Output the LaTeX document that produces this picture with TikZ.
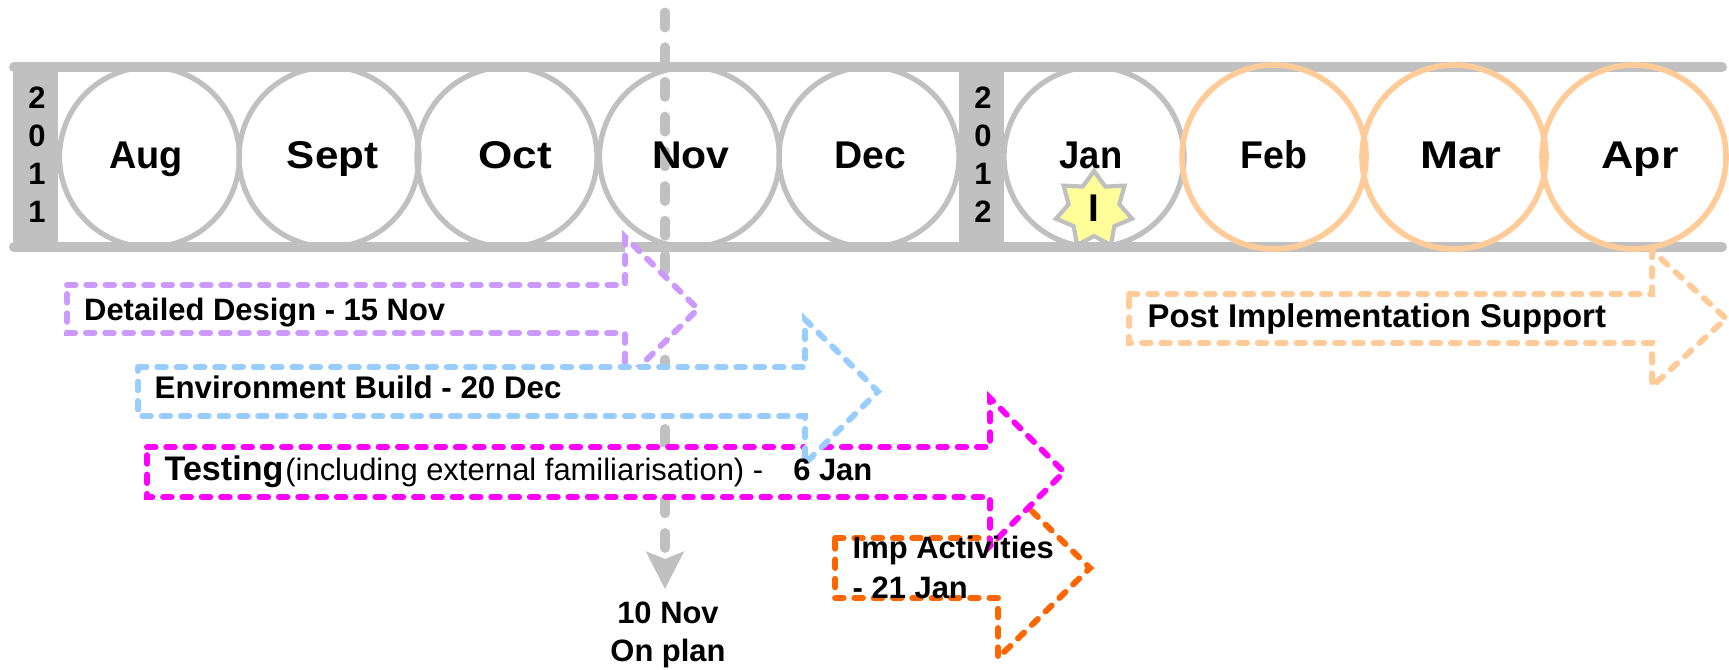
\documentclass[tikz,border=0pt]{standalone}
\usepackage{fontspec}
\setmainfont{Liberation Sans}
\usetikzlibrary{arrows.meta}
\usetikzlibrary{shapes.geometric}
\definecolor{barc}{HTML}{C0C0C0}
\definecolor{peach}{HTML}{FFCC99}
\definecolor{lilac}{HTML}{CC99FF}
\definecolor{skyb}{HTML}{99CCFF}
\definecolor{mag}{HTML}{FF00FF}
\definecolor{orng}{HTML}{FF6600}
\definecolor{starc}{HTML}{FFFF99}
\tikzset{
  monthc/.style={circle, draw=barc, line width=1.5pt, minimum size=1.8cm, inner sep=0pt},
  lbl/.style={inner sep=0pt, font=\fontsize{8.8}{10.8}\selectfont\bfseries},
  yearlbl/.style={lbl, align=center},
  blockarr/.style={fill=white, line width=1.7pt, dash pattern=on 0.085cm off 0.108cm, line cap=round}
}
\begin{document}
\begin{tikzpicture}[>=latex]
  \useasboundingbox (0, 0) rectangle (17.29, 6.69);

  % month circles, still grey ones
  \foreach \mon/\x in {aug/1.495, sept/3.29, oct/5.07, nov/6.895, dec/8.69, jan/10.94} {
    \node[monthc] (\mon) at (\x, 5.12) {};
  }

  % year blocks and the two rails
  \fill[barc] (0.13, 4.22) rectangle (0.58, 6.02);
  \fill[barc] (9.59, 4.22) rectangle (10.04, 6.02);
  \coordinate (topl) at (0.14, 6.02);
  \coordinate (topr) at (17.22, 6.02);
  \coordinate (botl) at (0.14, 4.22);
  \coordinate (botr) at (17.22, 4.22);
  \draw[barc, line width=2.85pt, line cap=round] (topl) -- (topr);
  \draw[barc, line width=2.85pt, line cap=round] (botl) -- (botr);

  % months still to come
  \foreach \mon/\x in {feb/12.74, mar/14.54, apr/16.34} {
    \node[monthc, draw=peach, line width=1.6pt, minimum size=1.84cm] (\mon) at (\x, 5.12) {};
  }

  % implementation marker
  \node[star, star points=7, star point ratio=1.5, minimum size=0.78cm, inner sep=0pt,
        fill=starc, draw=barc, line width=1.2pt] (impstar) at (10.94, 4.59) {};
  \draw[barc, line width=2.85pt] (10.4, 4.22) -- (11.4, 4.22);

  % today line
  \coordinate (nowtop) at (6.65, 6.565);
  \coordinate (nowtip) at (6.65, 0.80);
  \draw[barc, line width=2.8pt, line cap=round, dash pattern=on 0.15cm off 0.197cm,
        -{Stealth[length=0.37cm, width=0.37cm, inset=0.07cm]}] (nowtop) -- (nowtip);

  % block arrows, last one lies on top
  \foreach \col/\xl/\xt/\xp/\ym/\hs/\hh in {
      peach/11.29/16.52/17.26/3.505/0.245/0.68,
      lilac/0.67/6.25/6.98/3.60/0.24/0.72,
      orng/8.35/9.98/10.90/1.01/0.30/0.90,
      mag/1.47/9.90/10.64/1.97/0.25/0.74,
      skyb/1.38/8.05/8.78/2.775/0.245/0.72} {
    \draw[blockarr, draw=\col] (\xl, \ym+\hs) -- (\xt, \ym+\hs) -- (\xt, \ym+\hh)
      -- (\xp, \ym) -- (\xt, \ym-\hh) -- (\xt, \ym-\hs) -- (\xl, \ym-\hs) -- cycle;
  }

  % month names
  \foreach \mon/\x/\sx in {Aug/1.46/0.98, Sept/3.326/1.09, Oct/5.15/1.14, Nov/6.91/1.06,
      Dec/8.70/1.01, Jan/10.91/0.94, Feb/12.74/0.97, Mar/14.61/1.18, Apr/16.40/1.16} {
    \node[inner sep=0pt, anchor=base, xscale=\sx, transform shape,
          font=\fontsize{11}{11}\selectfont\bfseries] (lbl\mon) at (\x, 5.01) {\mon};
  }

  \node[yearlbl] (yra) at (0.37, 5.14) {2\\0\\1\\1};
  \node[yearlbl] (yrb) at (9.83, 5.14) {2\\0\\1\\2};
  \node[inner sep=0pt, font=\fontsize{11}{11}\selectfont\bfseries] (implbl) at (10.94, 4.61) {I};

  \node[lbl, anchor=base west] (design) at (0.835, 3.485) {Detailed Design - 15 Nov};
  \node[lbl, anchor=base west, font=\fontsize{8.9}{10.8}\selectfont\bfseries] (envir) at (1.54, 2.71) {Environment Build - 20 Dec};
  \node[lbl, anchor=base west] (testg) at (1.64, 1.89)
    {{\fontsize{9.7}{10.8}\selectfont Testing}\hspace{0.02cm}{\mdseries\fontsize{8.8}{10.8}\selectfont(including external familiarisation) -}\hspace{0.3cm}6 Jan};
  \node[lbl, anchor=base west, font=\fontsize{9.35}{10.8}\selectfont\bfseries] (post) at (11.47, 3.42) {Post Implementation Support};
  \node[lbl, anchor=base west] (impa) at (8.52, 1.11) {Imp Activities};
  \node[lbl, anchor=base west] (impb) at (8.52, 0.71) {- 21 Jan};
  \node[lbl, align=center] (onplan) at (6.68, 0.345) {10 Nov\\On plan};
\end{tikzpicture}
\end{document}
